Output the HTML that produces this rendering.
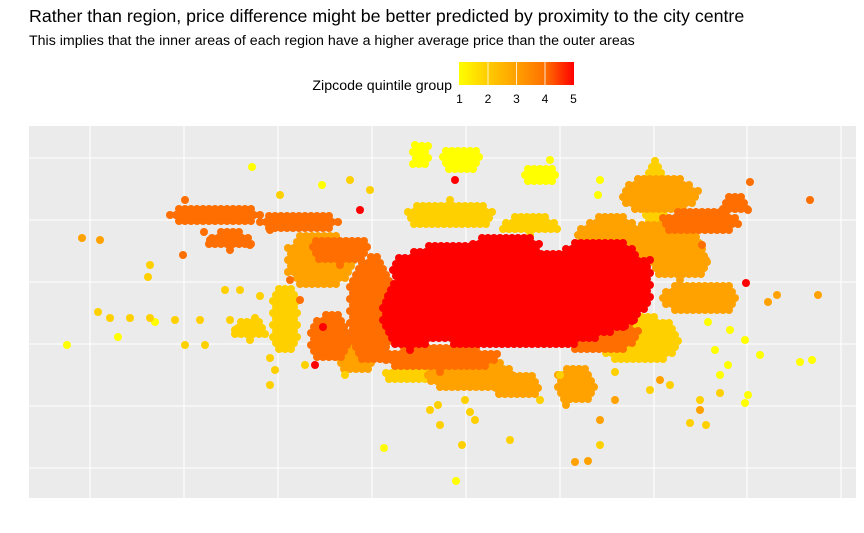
<!DOCTYPE html>
<html><head><meta charset="utf-8">
<style>
body{margin:0;background:#fff;font-family:"Liberation Sans",Arial,sans-serif;}
svg text{font-family:"Liberation Sans",Arial,sans-serif;}
</style></head>
<body>
<svg id="chart" width="864" height="528" viewBox="0 0 864 528" xmlns="http://www.w3.org/2000/svg">
<text x="29" y="22" font-size="17.8" fill="#000">Rather than region, price difference might be better predicted by proximity to the city centre</text>
<text x="29" y="45" font-size="14.2" fill="#000">This implies that the inner areas of each region have a higher average price than the outer areas</text>
<g>
<defs><linearGradient id="lg" x1="0" x2="1" y1="0" y2="0">
<stop offset="0" stop-color="#FFFF00"/><stop offset="0.25" stop-color="#FFCC00"/><stop offset="0.5" stop-color="#FFA000"/><stop offset="0.75" stop-color="#FF7000"/><stop offset="1" stop-color="#FF0000"/></linearGradient></defs>
<text x="452" y="90" font-size="14.2" text-anchor="end" fill="#000">Zipcode quintile group</text>
<rect x="459" y="62" width="115" height="23" fill="url(#lg)"/>
<g id="legendTicks"></g>
</g>
<rect x="29" y="126" width="827" height="372" fill="#EBEBEB"/>
<g id="grid"></g>
<g id="points"></g>
</svg>
<script>
const gridX = [30.5, 77.5, 124.5, 171.5, 218.5, 265.5, 312.5, 359, 406];
const gridY = [14.5, 45.5, 76.5, 107.5, 138.5, 169.5];
const groupColors = ["#FFFF00", "#FFD000", "#FFA200", "#FF6E00", "#FF0000"];
const legendLabels = ["1", "2", "3", "4", "5"];

// dense areas: [cx, cy, rx, ry, group]
const blobCx = [243,210.5,285.5,190.5,238, 171.5,155.5,135.5,205.5,285.5,335.5,353,93,150.5,100.5, 145.5,315.5,290.5,335.5,325.5,220.5,243,273,163,315.5, 210.5,250.5,313,305.5,195.5,128,110.5, 215.5,195.5,255.5];
const blobCy = [98.5,112.5,106,91,125, 93.5,123.5,137.5,69.5,81,137.5,146,141,79.5,128.5, 118.5,126,128.5,99.5,116,61,56,56,71,151, 141,136,148.5,78.5,61,88.5,83.5, 168.5,171,161];
const blobRx = [65,30,26,15,17.5, 12.5,15,20,30,20,20,7.5,22.5,11,12, 17.5,22.5,17.5,20,15,22.5,12.5,10,10,20, 22.5,15,6,20,20,7.5,9, 10,5,7.5];
const blobRy = [25,14,24,17.5,7.5, 27.5,7.5,6,7,10,7,5,6,12.5,5, 15,11,12.5,9,7.5,9,7.5,10,10,10, 7.5,5,22.5,12.5,5,17.5,5, 7.5,7.5,6];
const blobGroup = [5,5,5,5,5, 4,4,4,4,4,4,4,4,4,4, 3,3,3,3,3,3,3,3,3,3, 2,2,2,2,2,2,2, 1,1,1];

const ptX = [19,111.5,146.5,44.5,63,213.5,177.5,391.5,385.5,345.5,358,359.5,343,350.5,365.5,339.5,349.5,284.5,285.5,193,260.5,358,
 34.5,40.5,50.5,60.5,73,85.5,100.5,113,78,88,120.5,120.5,123,103,59.5,60.5,138,158,105.5,98,115.5,200.5,205.5,204.5,218,223,216.5,240.5,220.5,285.5,330.5,338.5,335.5,345.5,310.5,320.5,265.5,255.5,293,170.5,160.5,125.5,
 26.5,35.5,374,394.5,369.5,338.5,273,279.5,268.5,285.5,293,335.5,315.5,
 78,75.5,90.5,110.5,120.5,77,87.5,359.5,390.5,360.5,336.5,130.5,135.5,
 358.5,147,165.5,213,310.5,143];
const ptY = [76,165,156,80,87.5,8,24.5,68.5,67.5,61,47,51,73.5,83.5,71,87.5,66,151,158.5,176,168.5,78.5,
 92.5,89.5,89.5,89.5,88.5,88.5,88.5,89.5,76,76,69.5,56,63.5,83.5,110,116,66,61,103.5,103.5,100.5,43.5,36,46,48.5,38.5,26,28.5,42.5,26,37,36,48.5,52,53.5,56,61,48.5,62.5,153.5,158.5,151,
 129.5,128.5,101,101,97.5,118.5,17.5,18,46,38.5,48.5,43.5,58.5,
 148.5,141,128.5,126,133.5,121,132.5,143.5,148.5,157.5,126,108.5,98.5,
 107,85,143.5,158.5,118.5,66];
const ptGroup = [1,1,1,1,1,1,1,1,1,1,1,1,1,1,1,1,1,1,1,1,1,1,
 2,2,2,2,2,2,2,2,2,2,2,2,2,2,2,2,2,2,2,2,2,2,2,2,2,2,2,2,2,2,2,2,2,2,2,2,2,2,2,2,2,2,
 3,3,3,3,3,3,3,3,3,3,3,3,3,
 4,4,4,4,4,4,4,4,4,4,4,4,4,
 5,5,5,5,5,5];

const NS = "http://www.w3.org/2000/svg";
function xScale(v){ return 29 + v * 2; }
function yScale(v){ return 497 - v * 2; }

const grid = document.getElementById("grid");
gridX.forEach(v => {
  const l = document.createElementNS(NS, "line");
  
  
  l.setAttribute("x1", xScale(v)); l.setAttribute("x2", xScale(v));
  l.setAttribute("y1", 126); l.setAttribute("y2", 498);
  l.setAttribute("stroke", "#fff"); l.setAttribute("stroke-width", "1.1");
  grid.appendChild(l);
});
gridY.forEach(v => {
  const l = document.createElementNS(NS, "line");
  
  
  l.setAttribute("x1", 29); l.setAttribute("x2", 856);
  l.setAttribute("y1", yScale(v)); l.setAttribute("y2", yScale(v));
  l.setAttribute("stroke", "#fff"); l.setAttribute("stroke-width", "1.1");
  grid.appendChild(l);
});

const lt = document.getElementById("legendTicks");
legendLabels.forEach((s, i) => {
  const x = 459.5 + i * 28.5;
  if (i > 0 && i < 4) {
    const l = document.createElementNS(NS, "line");
    
    
    l.setAttribute("x1", x); l.setAttribute("x2", x);
    l.setAttribute("y1", 62); l.setAttribute("y2", 85);
    l.setAttribute("stroke", "#fff"); l.setAttribute("stroke-width", "0.8");
    lt.appendChild(l);
  }
  const t = document.createElementNS(NS, "text");
  
  
  t.setAttribute("x", x); t.setAttribute("y", 103);
  t.setAttribute("font-size", "12"); t.setAttribute("text-anchor", "middle");
  t.textContent = s;
  lt.appendChild(t);
});

const pts = document.getElementById("points");
function dot(x, y, g, name){
  const c = document.createElementNS(NS, "circle");
  
  
  c.setAttribute("cx", xScale(x).toFixed(1));
  c.setAttribute("cy", yScale(y).toFixed(1));
  c.setAttribute("r", 4);
  c.setAttribute("fill", groupColors[g - 1]);
  pts.appendChild(c);
}
[1,2,3,4,5].forEach(g => {
  blobCx.forEach((cx, i) => {
    if (blobGroup[i] !== g) return;
    const cy = blobCy[i], rx = blobRx[i], ry = blobRy[i];
    const step = 3;
    let row = 0;
    for (let y = cy - ry; y <= cy + ry; y += step, row++) {
      for (let x = cx - rx + (row % 2) * step / 2; x <= cx + rx; x += step) {
        const dx = (x - cx) / rx, dy = (y - cy) / ry;
        if (dx * dx + dy * dy <= 1) dot(x, y, g, 'home-point');
      }
    }
  });
});
ptX.forEach((x, i) => dot(x, ptY[i], ptGroup[i], 'home-point'));
</script>
</body></html>
